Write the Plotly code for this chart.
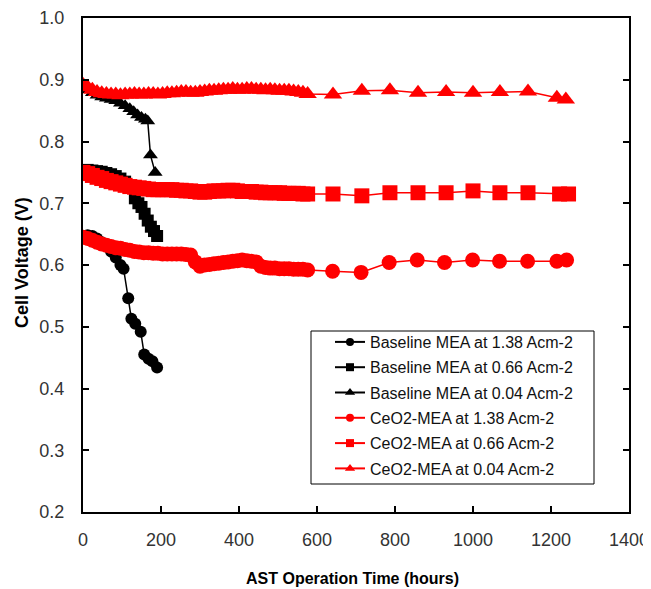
import plotly.graph_objects as go

# ---------------- data ----------------
dense_hours = [0, 12, 24, 36, 48, 60, 72, 84, 96, 108, 120, 132, 144, 156, 168, 180,
               192, 204, 216, 228, 240, 252, 264, 276, 288, 300, 312, 324, 336, 348,
               360, 372, 384, 396, 408, 420, 432, 444, 456, 468, 480, 492, 504, 516,
               528, 540, 552, 564, 576]

# Baseline MEA
base138_x = [0, 12, 24, 36, 48, 60, 72, 84, 96, 104, 116, 124, 134, 148, 157, 168, 178, 190]
base138_y = [0.647, 0.648, 0.647, 0.643, 0.637, 0.630, 0.622, 0.612, 0.600, 0.594, 0.546,
             0.513, 0.505, 0.492, 0.455, 0.448, 0.444, 0.434]

base066_x = [0, 12, 24, 36, 48, 60, 72, 84, 96, 108, 120, 133, 142, 150, 158, 166, 174, 182, 190]
base066_y = [0.753, 0.754, 0.753, 0.752, 0.751, 0.749, 0.747, 0.744, 0.740, 0.735, 0.726,
             0.708, 0.700, 0.694, 0.683, 0.672, 0.662, 0.655, 0.647]

base004_x = [0, 12, 24, 36, 48, 60, 72, 84, 96, 108, 120, 130, 140, 150, 160, 166, 173, 185]
base004_y = [0.888, 0.884, 0.879, 0.875, 0.872, 0.870, 0.868, 0.866, 0.862, 0.858, 0.853,
             0.848, 0.843, 0.839, 0.836, 0.833, 0.778, 0.750]

# CeO2-MEA
sparse_138_x = [640, 713, 785, 857, 927, 999, 1068, 1140, 1215, 1240]
ceo138_dense_y = [0.645, 0.643, 0.640, 0.637, 0.634, 0.632, 0.630, 0.628, 0.627, 0.625,
                  0.624, 0.622, 0.621, 0.620, 0.620, 0.619, 0.619, 0.618, 0.618, 0.618,
                  0.618, 0.618, 0.617, 0.616, 0.605, 0.598, 0.600, 0.601, 0.602, 0.603,
                  0.604, 0.605, 0.606, 0.607, 0.608, 0.607, 0.606, 0.605, 0.598, 0.596,
                  0.595, 0.595, 0.594, 0.594, 0.594, 0.593, 0.593, 0.593, 0.592]
ceo138_sparse_y = [0.590, 0.588, 0.604, 0.608, 0.604, 0.608, 0.606, 0.606, 0.606, 0.608]

sparse_066_x = [641, 715, 787, 859, 931, 1000, 1069, 1141, 1222, 1245]
ceo066_dense_y = [0.750, 0.748, 0.745, 0.742, 0.740, 0.737, 0.735, 0.733, 0.731, 0.729,
                  0.727, 0.726, 0.725, 0.724, 0.723, 0.722, 0.722, 0.722, 0.722, 0.722,
                  0.721, 0.721, 0.720, 0.720, 0.719, 0.718, 0.718, 0.719, 0.720, 0.720,
                  0.720, 0.721, 0.721, 0.720, 0.719, 0.719, 0.719, 0.718, 0.718, 0.717,
                  0.717, 0.717, 0.717, 0.716, 0.716, 0.716, 0.716, 0.715, 0.715]
ceo066_sparse_y = [0.715, 0.712, 0.717, 0.717, 0.717, 0.720, 0.717, 0.717, 0.715, 0.715]

sparse_004_x = [641, 715, 787, 859, 931, 1000, 1069, 1141, 1215, 1238]
ceo004_dense_y = [0.892, 0.888, 0.884, 0.880, 0.878, 0.877, 0.876, 0.876, 0.875, 0.876,
                  0.876, 0.877, 0.876, 0.876, 0.877, 0.877, 0.876, 0.877, 0.878, 0.878,
                  0.879, 0.880, 0.880, 0.879, 0.879, 0.880, 0.881, 0.882, 0.882, 0.883,
                  0.884, 0.884, 0.885, 0.884, 0.884, 0.885, 0.885, 0.884, 0.884, 0.883,
                  0.884, 0.883, 0.882, 0.882, 0.882, 0.881, 0.880, 0.879, 0.877]
ceo004_sparse_y = [0.876, 0.882, 0.883, 0.879, 0.880, 0.879, 0.880, 0.881, 0.871, 0.868]

names = ["Baseline MEA at 1.38 Acm-2", "Baseline MEA at 0.66 Acm-2",
         "Baseline MEA at 0.04 Acm-2", "CeO2-MEA at 1.38 Acm-2",
         "CeO2-MEA at 0.66 Acm-2", "CeO2-MEA at 0.04 Acm-2"]

x_ticks = [0, 200, 400, 600, 800, 1000, 1200, 1400]
y_ticks = [0.2, 0.3, 0.4, 0.5, 0.6, 0.7, 0.8, 0.9, 1.0]

# ---------------- geometry (window px -> figure) ----------------
OFF = 8                     # page body margin
W, H = 651 - OFF, 589 - OFF
PX0, PX1, PY0, PY1 = 83, 629, 18, 512     # plot area in window pixels
L, R, T, B = PX0 - OFF, W - (PX1 - OFF), PY0 - OFF, H - (PY1 - OFF)
pw, ph = PX1 - PX0, PY1 - PY0


def wx(px):
    return (px - PX0) / pw


def wy(py):
    return (PY1 - py) / ph


BLACK = "#000000"
RED = "#ff0000"

series = [
    (base138_x, base138_y, "circle", BLACK, 12, 8),
    (base066_x, base066_y, "square", BLACK, 12, 8),
    (base004_x, base004_y, "triangle-up", BLACK, 13, 9),
    (dense_hours + sparse_138_x, ceo138_dense_y + ceo138_sparse_y, "circle", RED, 15, 8),
    (dense_hours + sparse_066_x, ceo066_dense_y + ceo066_sparse_y, "square", RED, 15, 8),
    (dense_hours + sparse_004_x, ceo004_dense_y + ceo004_sparse_y, "triangle-up", RED, 16, 9),
]

fig = go.Figure()
for i, (xs, ys, sym, col, size, lsize) in enumerate(series):
    fig.add_trace(go.Scatter(
        x=xs, y=ys, name=names[i], mode="lines+markers", showlegend=False,
        line=dict(color=col, width=1.5),
        marker=dict(symbol=sym, color=col, size=size, line=dict(width=0)),
    ))
# legend entries (small symbols as in the reference legend)
for i, (xs, ys, sym, col, size, lsize) in enumerate(series):
    fig.add_trace(go.Scatter(
        x=[None], y=[None], name=names[i], mode="lines+markers",
        legendgroup="g%d" % i, showlegend=True,
        line=dict(color=col, width=2),
        marker=dict(symbol=sym, color=col, size=lsize, line=dict(width=0)),
    ))

fig.add_shape(type="rect", xref="paper", yref="paper",
              x0=wx(311), x1=wx(594), y0=wy(484), y1=wy(331),
              line=dict(color=BLACK, width=1), fillcolor="rgba(0,0,0,0)", layer="above")

fig.add_annotation(text="<b>Cell Voltage (V)</b>", xref="paper", yref="paper",
                   x=wx(22), y=wy(263), xanchor="center", yanchor="middle",
                   textangle=-90, showarrow=False,
                   font=dict(size=18, color=BLACK, family="Liberation Sans"))
fig.add_annotation(text="<b>AST Operation Time (hours)</b>", xref="paper", yref="paper",
                   x=wx(352), y=wy(578), xanchor="center", yanchor="middle",
                   showarrow=False,
                   font=dict(size=16, color=BLACK, family="Liberation Sans"))

fig.update_layout(
    width=W, height=H,
    margin=dict(l=L, r=R, t=T, b=B, autoexpand=False),
    paper_bgcolor="white", plot_bgcolor="white",
    font=dict(family="Liberation Sans", size=14, color="#333333"),
    showlegend=True,
    legend=dict(
        x=wx(330), y=wy(325), xanchor="left", yanchor="top",
        bgcolor="rgba(0,0,0,0)", borderwidth=0,
        font=dict(size=16, color="#111111", family="Liberation Sans"),
        traceorder="grouped", tracegroupgap=1.5, itemwidth=30,
    ),
    xaxis=dict(
        range=[0, 1400], tickvals=x_ticks, ticktext=[str(v) for v in x_ticks],
        showgrid=False, zeroline=False, showline=True, linecolor=BLACK, linewidth=2,
        mirror=True, ticks="inside", ticklen=6, tickwidth=2, tickcolor=BLACK,
        ticklabelstandoff=10, tickfont=dict(size=18, color="#333333"),
    ),
    yaxis=dict(
        range=[0.2, 1.0], tickvals=y_ticks, ticktext=["%.1f" % v for v in y_ticks],
        showgrid=False, zeroline=False, showline=True, linecolor=BLACK, linewidth=2,
        mirror="ticks", ticks="inside", ticklen=6, tickwidth=2, tickcolor=BLACK,
        ticklabelstandoff=13, tickfont=dict(size=18, color="#333333"),
    ),
)

fig.write_html("out.html")
